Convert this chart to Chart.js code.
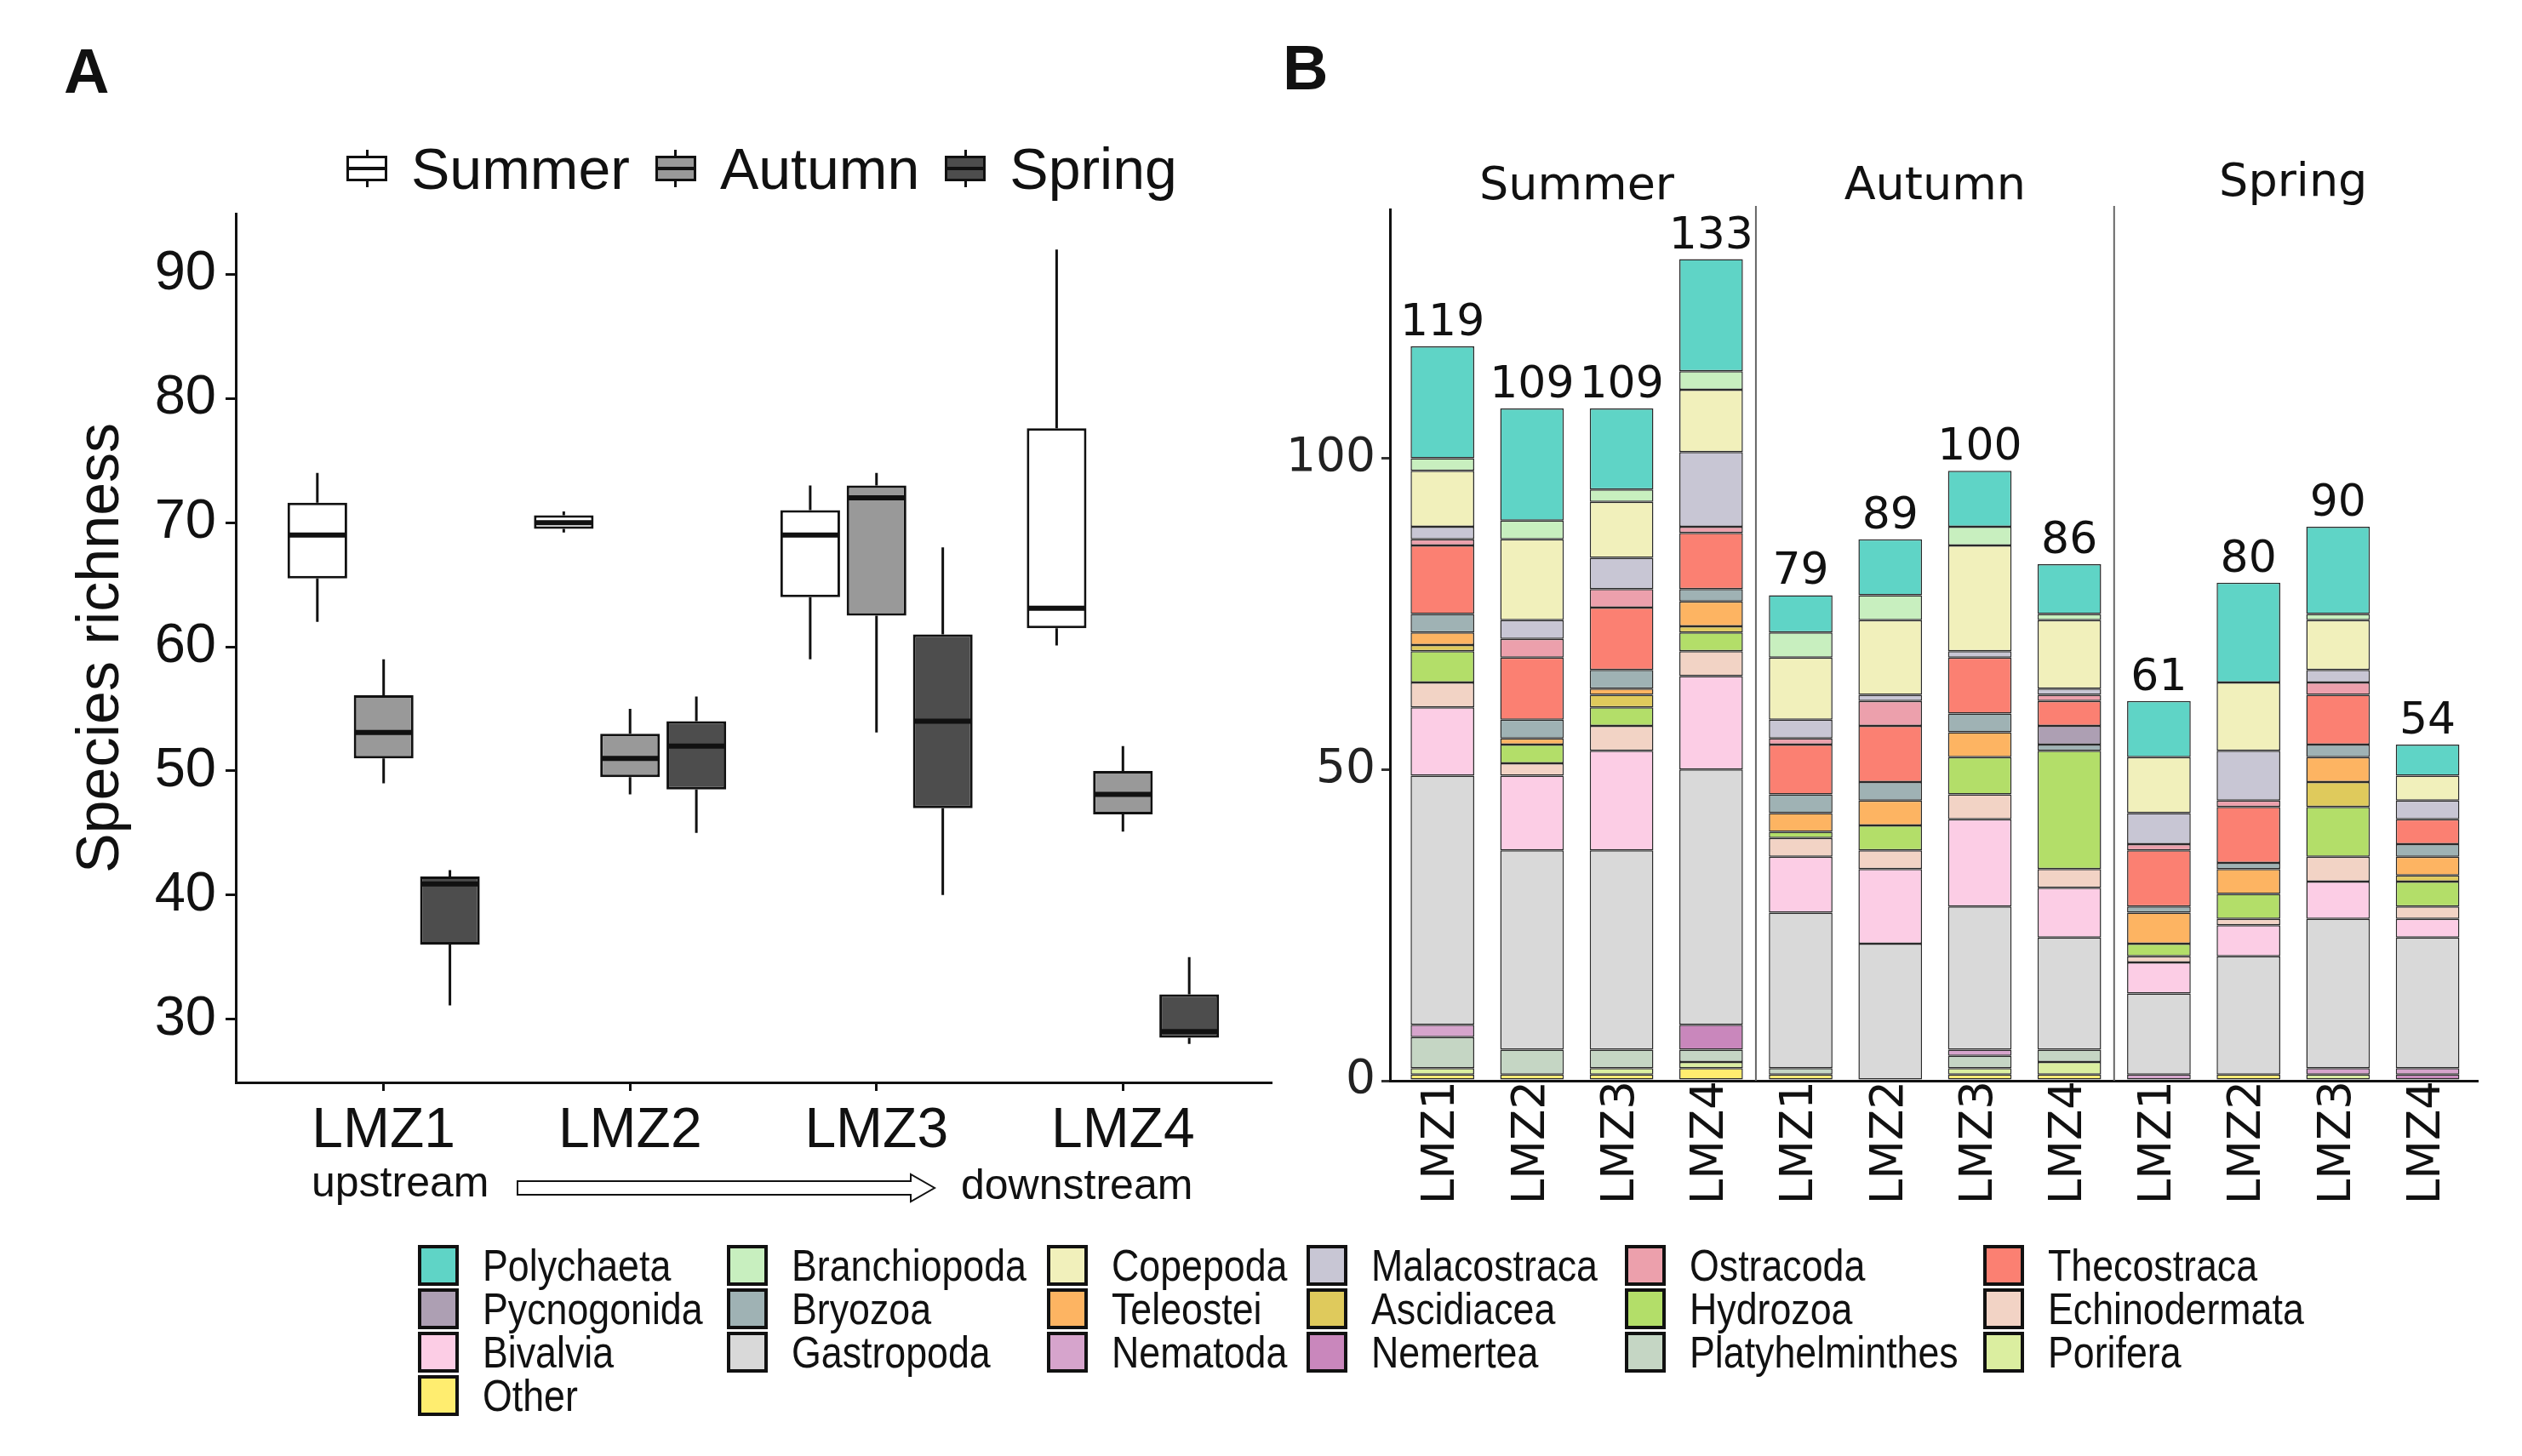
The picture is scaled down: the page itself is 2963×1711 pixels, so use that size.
<!DOCTYPE html>
<html lang="en">
<head>
<meta charset="UTF-8">
<title>Species richness and taxonomic composition</title>
<script src="https://cdn.jsdelivr.net/npm/chart.js"></script>
<style>
  body {
    margin: 0;
    width: 2963px;
    height: 1711px;
    position: relative;
    overflow: hidden;
    background: #fff;
    font-family: "Liberation Sans", Arial, sans-serif;
    color: #111;
  }
  .tag {
    position: absolute;
    font-weight: bold;
    font-size: 74px;
    line-height: 1;
  }
  #boxWrap { position: absolute; left: 0; top: 0; }
  #barWrap { position: absolute; left: 1500px; top: 0; }
  #seasonLegend {
    position: absolute;
    left: 407px;
    top: 164px;
    display: flex;
    align-items: center;
    font-size: 68px;
    line-height: 1;
  }
  .sitem { display: flex; align-items: center; margin-right: 30px; }
  .skey { width: 48px; height: 44px; display: flex; flex-direction: column; align-items: center; margin-right: 28px; }
  .skey .wh { width: 3px; height: 7px; background: #111; }
  .skey .bx { width: 48px; height: 30px; box-sizing: border-box; border: 3px solid #111; position: relative; }
  .skey .bx::after { content: ''; position: absolute; left: 0; right: 0; top: 50%; height: 4px; margin-top: -2px; background: #111; }
  .flow { position: absolute; font-size: 50px; line-height: 1; }
  #flowArrow { position: absolute; left: 606px; top: 1378px; }
  .titem {
    position: absolute;
    display: flex;
    align-items: center;
    font-size: 52px;
    line-height: 48px;
    white-space: nowrap;
  }
  .tkey { width: 48px; height: 48px; box-sizing: border-box; border: 4px solid #111; margin-right: 28px; flex: none; }
  .tname { display: inline-block; transform: scaleX(0.86); transform-origin: left center; }
</style>
</head>
<body>
<div class="tag" style="left:75px; top:47px;">A</div>
<div class="tag" style="left:1507px; top:43px;">B</div>

<div id="seasonLegend"></div>

<div id="boxWrap"><canvas id="boxChart" width="1520" height="1480"></canvas></div>
<div id="barWrap"><canvas id="barChart" width="1463" height="1440"></canvas></div>

<div class="flow" style="left:366px; top:1364px;">upstream</div>
<svg id="flowArrow" width="496" height="36">
  <polygon points="2,10 464,10 464,2 492,18 464,34 464,26 2,26" fill="#fff" stroke="#111" stroke-width="2"/>
</svg>
<div class="flow" style="left:1129px; top:1367px;">downstream</div>

<div id="taxaLegend"></div>

<script>
// ---------- panel A: species richness per zone and season ----------
const zones = ['LMZ1', 'LMZ2', 'LMZ3', 'LMZ4'];
const seasons = ['Summer', 'Autumn', 'Spring'];
// [lower whisker, Q1, median, Q3, upper whisker] for LMZ1..LMZ4
const summerBox = [[62, 65.5, 69, 71.6, 74], [69.2, 69.5, 70, 70.6, 70.9], [59, 64, 69, 71, 73], [60.1, 61.5, 63.1, 77.6, 92]];
const autumnBox = [[49, 51, 53.1, 56.1, 59], [48.1, 49.5, 51, 53, 55], [53.1, 62.5, 72, 73, 74], [45.1, 46.5, 48.1, 50, 52]];
const springBox = [[31.1, 36, 40.9, 41.5, 42], [45, 48.5, 52, 54, 56], [40, 47, 54, 61, 68], [28, 28.5, 29, 32, 35]];
const richnessTicks = [30, 40, 50, 60, 70, 80, 90];
const seasonFills = ['#ffffff', '#999999', '#4d4d4d'];

// ---------- panel B: taxa counts, bars Summer LMZ1-4, Autumn LMZ1-4, Spring LMZ1-4 ----------
const taxa = ['Polychaeta', 'Branchiopoda', 'Copepoda', 'Malacostraca', 'Ostracoda', 'Thecostraca',
  'Pycnogonida', 'Bryozoa', 'Teleostei', 'Ascidiacea', 'Hydrozoa', 'Echinodermata',
  'Bivalvia', 'Gastropoda', 'Nematoda', 'Nemertea', 'Platyhelminthes', 'Porifera', 'Other'];
const polychaeta      = [18, 18, 13, 18, 6, 9, 9, 8, 9, 16, 14, 5];
const branchiopoda    = [2, 3, 2, 3, 4, 4, 3, 1, 0, 0, 1, 0];
const copepoda        = [9, 13, 9, 10, 10, 12, 17, 11, 9, 11, 8, 4];
const malacostraca    = [2, 3, 5, 12, 3, 1, 1, 1, 5, 8, 2, 3];
const ostracoda       = [1, 3, 3, 1, 1, 4, 0, 1, 1, 1, 2, 0];
const thecostraca     = [11, 10, 10, 9, 8, 9, 9, 4, 9, 9, 8, 4];
const pycnogonida     = [0, 0, 0, 0, 0, 0, 0, 3, 0, 0, 0, 0];
const bryozoa         = [3, 3, 3, 2, 3, 3, 3, 1, 1, 1, 2, 2];
const teleostei       = [2, 1, 1, 4, 3, 4, 4, 0, 5, 4, 4, 3];
const ascidiacea      = [1, 0, 2, 1, 0, 0, 0, 0, 0, 0, 4, 1];
const hydrozoa        = [5, 3, 3, 3, 1, 4, 6, 19, 2, 4, 8, 4];
const echinodermata   = [4, 2, 4, 4, 3, 3, 4, 3, 1, 1, 4, 2];
const bivalvia        = [11, 12, 16, 15, 9, 12, 14, 8, 5, 5, 6, 3];
const gastropoda      = [40, 32, 32, 41, 25, 22, 23, 18, 13, 19, 24, 21];
const nematoda        = [2, 0, 0, 0, 0, 0, 1, 0, 1, 0, 1, 1];
const nemertea        = [0, 0, 0, 4, 0, 0, 0, 0, 0, 0, 0, 1];
const platyhelminthes = [5, 4, 3, 2, 1, 0, 2, 2, 0, 0, 0, 0];
const porifera        = [1, 0, 1, 1, 0, 0, 1, 2, 0, 0, 1, 0];
const other           = [1, 1, 1, 2, 1, 0, 1, 1, 0, 1, 0, 0];
const barTotals = [119, 109, 109, 133, 79, 89, 100, 86, 61, 80, 90, 54];
const countTicks = [0, 50, 100];

const taxonCounts = [polychaeta, branchiopoda, copepoda, malacostraca, ostracoda, thecostraca,
  pycnogonida, bryozoa, teleostei, ascidiacea, hydrozoa, echinodermata,
  bivalvia, gastropoda, nematoda, nemertea, platyhelminthes, porifera, other];
const taxonColours = ['#5fd4c6', '#c8efbf', '#f1f0bb', '#c8c6d4', '#eca0ac', '#fb8072',
  '#ad9fb3', '#9fb2b4', '#fdb462', '#dfca5c', '#b3de69', '#f2d3c5',
  '#fccde5', '#d9d9d9', '#d6a4cc', '#c987bc', '#c5d6c4', '#dbeea0', '#ffed6f'];

const ARIAL = "'Liberation Sans', Arial, sans-serif";
const DEJAVU = "'DejaVu Sans', Verdana, sans-serif";
const INK = '#111';

// ---------- legends (HTML) ----------
const sLegend = document.getElementById('seasonLegend');
seasons.forEach((s, i) => {
  const item = document.createElement('div');
  item.className = 'sitem';
  item.innerHTML = '<div class="skey"><span class="wh"></span><span class="bx" style="background:' +
    seasonFills[i] + '"></span><span class="wh"></span></div><span>' + s + '</span>';
  sLegend.appendChild(item);
});

const legendCols = [491, 854, 1230, 1535, 1909, 2330];
const legendRowTop = 1463, legendRowStep = 51;
const tLegend = document.getElementById('taxaLegend');
taxa.forEach((name, i) => {
  const item = document.createElement('div');
  item.className = 'titem';
  item.style.left = legendCols[i % 6] + 'px';
  item.style.top = (legendRowTop + Math.floor(i / 6) * legendRowStep) + 'px';
  item.innerHTML = '<span class="tkey" style="background:' + taxonColours[i] + '"></span><span class="tname">' + name + '</span>';
  tLegend.appendChild(item);
});

// ---------- panel A chart ----------
const whiskerPlugin = {
  id: 'whiskers',
  afterDatasetsDraw(chart) {
    const {ctx, scales: {y}} = chart;
    chart.data.datasets.forEach((ds, i) => {
      const meta = chart.getDatasetMeta(i);
      meta.data.forEach((bar, k) => {
        const [lo, q1, med, q3, hi] = ds.whiskers[k];
        const half = bar.width / 2;
        ctx.save();
        ctx.strokeStyle = INK;
        ctx.lineWidth = 3;
        ctx.beginPath();
        ctx.moveTo(bar.x, y.getPixelForValue(hi));
        ctx.lineTo(bar.x, y.getPixelForValue(q3));
        ctx.moveTo(bar.x, y.getPixelForValue(q1));
        ctx.lineTo(bar.x, y.getPixelForValue(lo));
        ctx.stroke();
        ctx.lineWidth = 6;
        ctx.beginPath();
        ctx.moveTo(bar.x - half + 1, y.getPixelForValue(med));
        ctx.lineTo(bar.x + half - 1, y.getPixelForValue(med));
        ctx.stroke();
        ctx.restore();
      });
    });
  }
};

new Chart(document.getElementById('boxChart'), {
  type: 'bar',
  data: {
    datasets: [summerBox, autumnBox, springBox].map((rows, i) => ({
      label: seasons[i],
      data: rows.map((r, k) => ({x: k + 1, y: [r[1], r[3]]})),
      whiskers: rows,
      backgroundColor: seasonFills[i],
      borderColor: INK,
      borderWidth: 3,
      borderSkipped: false,
      categoryPercentage: 0.807,
      barPercentage: 0.9
    }))
  },
  options: {
    responsive: false,
    animation: false,
    layout: {padding: {top: 251, right: 27, left: 0, bottom: 0}},
    plugins: {legend: {display: false}, tooltip: {enabled: false}},
    scales: {
      x: {
        type: 'linear',
        min: 0.4,
        max: 4.6,
        offset: false,
        afterBuildTicks: s => { s.ticks = zones.map((z, k) => ({value: k + 1})); },
        afterFit: s => { s.height = 208; },
        ticks: {
          callback: v => zones[v - 1],
          font: {family: ARIAL, size: 66},
          color: INK,
          padding: 8,
          maxRotation: 0
        },
        grid: {drawOnChartArea: false, drawTicks: true, tickLength: 10, color: INK, lineWidth: 3, offset: false},
        border: {color: INK, width: 3}
      },
      y: {
        min: 24.9,
        max: 94.9,
        afterBuildTicks: s => { s.ticks = richnessTicks.map(v => ({value: v})); },
        afterFit: s => { s.width = 277; },
        ticks: {font: {family: ARIAL, size: 65}, color: INK, padding: 11},
        grid: {drawOnChartArea: false, drawTicks: true, tickLength: 12, color: INK, lineWidth: 3},
        border: {color: INK, width: 3},
        title: {
          display: true,
          text: 'Species richness',
          font: {family: ARIAL, size: 70},
          color: INK,
          padding: {top: 78, bottom: 0}
        }
      }
    }
  },
  plugins: [whiskerPlugin]
});

// ---------- panel B chart ----------
const facetPlugin = {
  id: 'facets',
  afterDatasetsDraw(chart) {
    const {ctx, chartArea, scales: {x, y}} = chart;
    ctx.save();
    ctx.strokeStyle = '#666';
    ctx.lineWidth = 2;
    [3.5, 7.5].forEach(v => {
      const px = x.getPixelForValue(v);
      ctx.beginPath();
      ctx.moveTo(px, chartArea.top - 4);
      ctx.lineTo(px, chartArea.bottom);
      ctx.stroke();
    });
    ctx.fillStyle = INK;
    ctx.textAlign = 'center';
    ctx.textBaseline = 'alphabetic';
    ctx.font = "52px 'DejaVu Sans'";
    barTotals.forEach((t, j) => {
      const top = chart.data.datasets.reduce((s, ds) => s + (ds.data[j].y || 0), 0);
      ctx.fillText(String(t), x.getPixelForValue(j), y.getPixelForValue(top) - 13);
    });
    ctx.font = "54px 'DejaVu Sans'";
    seasons.forEach((s, i) => {
      ctx.fillText(s, x.getPixelForValue(i * 4 + 1.5), i === 2 ? 230 : 234);
    });
    ctx.restore();
  }
};

const barLabels = [];
seasons.forEach(() => zones.forEach(z => barLabels.push(z)));

new Chart(document.getElementById('barChart'), {
  type: 'bar',
  data: {
    datasets: taxa.map((name, i) => ({
      label: name,
      data: taxonCounts[i].map((v, j) => ({x: j, y: v ? v : null})),
      backgroundColor: taxonColours[i],
      borderColor: '#2a2a2a',
      borderWidth: 1.5,
      borderSkipped: false,
      categoryPercentage: 1,
      barPercentage: 0.71
    })).reverse()
  },
  options: {
    responsive: false,
    animation: false,
    layout: {padding: {top: 246, right: 52, left: 0, bottom: 0}},
    plugins: {legend: {display: false}, tooltip: {enabled: false}},
    scales: {
      x: {
        type: 'linear',
        stacked: true,
        min: -0.586,
        max: 11.56,
        offset: false,
        afterBuildTicks: s => { s.ticks = barLabels.map((l, j) => ({value: j})); },
        afterFit: s => { s.height = 170; },
        ticks: {
          callback: v => barLabels[v],
          font: {family: DEJAVU, size: 53},
          color: INK,
          autoSkip: false,
          minRotation: 90,
          maxRotation: 90,
          padding: 0
        },
        grid: {display: true, drawOnChartArea: false, drawTicks: false, offset: false},
        border: {color: INK, width: 3}
      },
      y: {
        stacked: true,
        min: 0,
        max: 140,
        afterBuildTicks: s => { s.ticks = countTicks.map(v => ({value: v})); },
        afterFit: s => { s.width = 133; },
        ticks: {font: {family: DEJAVU, size: 55}, color: '#222', padding: 7},
        grid: {drawOnChartArea: false, drawTicks: true, tickLength: 10, color: '#333', lineWidth: 3},
        border: {color: INK, width: 3}
      }
    }
  },
  plugins: [facetPlugin]
});
</script>
</body>
</html>
